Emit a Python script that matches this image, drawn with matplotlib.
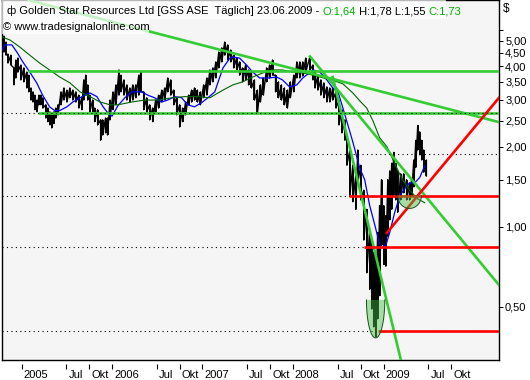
import numpy as np
import pandas as pd
import matplotlib
matplotlib.use('Agg')
import matplotlib.pyplot as plt
import matplotlib.dates as mdates
import matplotlib.transforms as mtransforms
from matplotlib.patches import Rectangle

plt.rcParams['font.family'] = ['Liberation Sans', 'DejaVu Sans']

# ---------------- data ----------------
dates = ['2004-10-14','2004-10-22','2004-10-30','2004-11-07','2004-11-19','2004-12-01','2004-12-09','2004-12-17','2004-12-29',
 '2005-01-10','2005-01-22','2005-01-30','2005-02-08','2005-02-16','2005-02-24','2005-03-04','2005-03-12','2005-03-20','2005-03-28',
 '2005-04-09','2005-04-17','2005-04-25','2005-05-03','2005-05-11','2005-05-19','2005-05-28','2005-06-09','2005-06-21','2005-07-03',
 '2005-07-15','2005-07-27','2005-08-08','2005-08-20','2005-09-01','2005-09-09','2005-09-17','2005-09-25','2005-10-03','2005-10-15',
 '2005-10-23','2005-11-04','2005-11-16','2005-11-24','2005-12-06','2005-12-14','2005-12-24','2006-01-05','2006-01-17','2006-01-29',
 '2006-02-06','2006-02-18','2006-03-02','2006-03-14','2006-03-26','2006-04-07','2006-04-19','2006-04-27','2006-05-09','2006-05-21',
 '2006-06-02','2006-06-14','2006-06-26','2006-07-08','2006-07-21','2006-08-02','2006-08-14','2006-08-26','2006-09-07','2006-09-19',
 '2006-10-01','2006-10-13','2006-10-25','2006-11-06','2006-11-18','2006-11-30','2006-12-12','2006-12-24','2007-01-06','2007-01-19',
 '2007-01-31','2007-02-12','2007-02-24','2007-03-08','2007-03-20','2007-04-01','2007-04-13','2007-04-25','2007-05-07','2007-05-19',
 '2007-05-31','2007-06-12','2007-06-24','2007-07-06','2007-07-18','2007-07-30','2007-08-11','2007-08-23','2007-09-04','2007-09-17',
 '2007-09-29','2007-10-11','2007-10-23','2007-11-04','2007-11-16','2007-11-28','2007-12-10','2007-12-22','2008-01-05','2008-01-17',
 '2008-01-29','2008-02-10','2008-02-22','2008-03-10','2008-03-22','2008-03-30','2008-04-11','2008-04-23','2008-05-05','2008-05-17',
 '2008-05-29','2008-06-10','2008-06-23','2008-07-05','2008-07-17','2008-07-29','2008-08-06','2008-08-18','2008-08-30','2008-09-11',
 '2008-09-19','2008-10-01','2008-10-13','2008-10-25','2008-11-06','2008-11-14','2008-11-22','2008-11-30','2008-12-08','2008-12-16',
 '2008-12-24','2009-01-02','2009-01-10','2009-01-18','2009-01-26','2009-02-03','2009-02-11','2009-02-19','2009-02-27','2009-03-11',
 '2009-03-23','2009-04-04','2009-04-16','2009-04-24','2009-05-03','2009-05-11','2009-05-19','2009-05-27','2009-06-04','2009-06-12',
 '2009-06-23']
highs = [5.45,5.20,4.94,4.45,4.41,3.95,4.23,4.30,4.05,
 3.95,3.81,3.71,3.32,3.21,3.12,2.99,3.12,3.12,3.05,
 2.87,2.79,2.70,2.63,2.70,2.79,2.87,3.21,3.32,3.26,
 3.32,3.26,3.21,3.12,3.05,3.56,3.71,3.41,3.12,2.99,
 2.79,2.75,2.52,2.52,2.56,2.56,2.99,3.21,3.41,3.88,
 3.71,3.56,3.41,3.32,3.41,3.41,3.71,3.81,3.21,3.05,
 2.87,2.79,2.99,3.12,3.26,3.32,3.62,3.56,3.26,3.05,
 2.87,2.79,2.94,3.12,3.26,3.32,3.26,3.21,3.41,3.62,
 3.88,3.95,4.16,4.53,4.70,4.94,4.82,4.61,4.41,4.30,
 4.16,3.95,4.05,3.88,3.81,3.56,3.26,3.41,3.62,3.95,
 4.05,4.23,3.71,3.50,3.41,3.32,3.26,3.50,3.71,4.16,
 4.16,4.16,4.30,4.36,4.05,3.81,3.71,3.56,3.47,3.35,
 3.32,3.32,3.21,2.99,2.75,2.52,2.21,1.94,1.70,1.56,
 1.94,1.70,1.37,1.16,0.97,0.89,0.80,0.78,0.95,1.20,
 1.50,1.20,1.10,1.50,1.62,1.73,1.90,1.73,1.62,1.58,
 1.58,1.50,1.46,1.50,1.78,2.11,2.40,2.27,2.11,1.94,
 1.78]
lows = [4.61,4.53,4.41,4.12,4.05,3.41,3.62,3.81,3.56,
 3.50,3.32,3.21,2.99,2.94,2.75,2.70,2.87,2.87,2.79,
 2.56,2.48,2.41,2.35,2.44,2.56,2.63,2.87,2.99,2.94,
 3.05,2.99,2.94,2.79,2.75,2.99,3.12,2.99,2.70,2.70,
 2.48,2.41,2.11,2.21,2.25,2.21,2.52,2.75,2.87,3.12,
 3.21,3.12,2.99,2.94,2.99,3.05,3.12,3.21,2.75,2.70,
 2.52,2.48,2.70,2.79,2.94,2.99,3.21,3.12,2.87,2.63,
 2.37,2.48,2.63,2.87,2.94,2.99,2.94,2.87,3.05,3.12,
 3.41,3.50,3.62,3.95,4.16,4.41,4.23,4.16,3.95,3.88,
 3.71,3.50,3.56,3.41,3.32,2.99,2.67,2.94,3.12,3.50,
 3.62,3.71,3.21,3.05,2.99,2.87,2.79,3.05,3.21,3.62,
 3.62,3.68,3.81,3.88,3.56,3.32,3.26,3.12,3.05,2.94,
 2.94,2.99,2.79,2.41,2.25,2.11,1.70,1.31,1.24,1.16,
 1.46,1.26,0.89,0.67,0.58,0.49,0.42,0.385,0.45,0.55,
 0.85,0.72,0.71,0.92,1.06,1.16,1.31,1.26,1.13,1.26,
 1.34,1.26,1.26,1.30,1.41,1.67,1.94,1.86,1.78,1.60,
 1.55]

ma_fast_dates = ['2004-10-14','2004-10-26','2004-11-23','2004-12-13','2005-01-06','2005-02-03','2005-03-03','2005-03-27','2005-04-24',
 '2005-05-15','2005-06-04','2005-07-03','2005-07-27','2005-09-02','2005-10-04','2005-11-01','2005-11-26','2005-12-16','2006-01-01',
 '2006-01-25','2006-02-22','2006-03-22','2006-05-01','2006-05-25','2006-06-22','2006-07-20','2006-08-14','2006-09-11','2006-10-09',
 '2006-11-02','2006-11-30','2006-12-28','2007-01-23','2007-02-20','2007-03-08','2007-03-25','2007-04-22','2007-05-04','2007-05-31',
 '2007-06-28','2007-07-23','2007-08-20','2007-09-29','2007-10-27','2007-11-20','2007-12-19','2008-01-17','2008-02-10','2008-03-22',
 '2008-04-19','2008-05-17','2008-06-10','2008-07-01','2008-07-21','2008-08-10','2008-08-30','2008-09-27','2008-10-17','2008-11-06',
 '2008-11-26','2008-12-20','2009-01-10','2009-01-26','2009-02-15','2009-03-07','2009-03-27','2009-04-16','2009-05-07','2009-05-27',
 '2009-06-16']
ma_fast = [4.61,4.82,4.82,4.53,4.16,3.81,3.47,3.12,2.82,
 2.73,2.73,2.82,2.94,3.08,3.18,3.08,2.82,2.67,2.60,
 2.85,3.05,3.21,3.21,3.12,3.05,2.94,2.99,3.08,3.05,
 2.87,2.82,2.92,3.05,3.21,3.56,3.95,4.30,4.34,4.30,
 4.05,3.81,3.62,3.62,3.65,3.56,3.35,3.41,3.62,3.88,
 3.81,3.56,3.32,3.21,2.79,2.41,2.08,1.66,1.50,1.20,
 1.02,0.83,0.85,0.95,1.13,1.30,1.39,1.46,1.46,1.53,
 1.69]

ma_slow_dates = ['2004-10-14','2004-11-15','2004-12-25','2005-02-03','2005-03-15','2005-04-24','2005-06-04','2005-07-15','2005-08-25',
 '2005-10-04','2005-11-14','2005-12-24','2006-01-25','2006-03-22','2006-05-13','2006-07-05','2006-08-31','2006-10-21','2006-12-13',
 '2007-01-31','2007-03-25','2007-05-04','2007-06-12','2007-07-23','2007-09-01','2007-10-11','2007-11-20','2007-12-31','2008-02-10',
 '2008-03-22','2008-04-19','2008-06-10','2008-07-21','2008-08-30','2008-09-27','2008-10-25','2008-11-19','2008-12-16','2009-01-14',
 '2009-02-15','2009-03-15','2009-04-16','2009-05-19','2009-06-16']
ma_slow = [5.16,5.03,4.73,4.41,4.12,3.88,3.65,3.47,3.21,
 3.08,2.94,2.87,2.87,2.94,2.99,2.99,3.05,3.08,3.08,
 3.05,3.26,3.41,3.50,3.65,3.78,3.88,3.88,3.81,3.78,
 3.71,3.65,3.55,3.44,3.18,2.97,2.79,2.50,2.16,2.00,
 1.73,1.52,1.37,1.27,1.23]

x_start, x_end = '2004-10-14', '2010-04-12'
y_min, y_max = 0.315, 7.11

dotted_levels = [2.67, 1.87, 1.30, 0.84, 0.405]
green_h_levels = [3.85, 2.67]
green_h_from = ['2005-01-26', '2005-03-08']
red_h_levels = [1.30, 0.84, 0.405]
red_h_from = ['2008-08-14', '2008-10-13', '2008-12-08']
# trend lines: (start date, start price, end date, end price)
green_trends = [('2005-01-30', 7.10, '2010-04-12', 2.47),
                ('2008-03-10', 4.36, '2010-04-12', 0.603),
                ('2008-06-10', 3.65, '2009-03-12', 0.315)]
red_trends = [('2009-01-14', 0.946, '2010-04-12', 3.05)]
# highlighted zones: (centre date, top price, half width days, depth in decades)
zones = [('2008-11-30', 0.53, 37, 0.143), ('2009-04-16', 1.31, 48, 0.049)]

ytick_vals = [0.5, 1.0, 1.5, 2.0, 2.5, 3.0, 3.5, 4.0, 4.5, 5.0, 5.5]
ytick_labels = ['0,50', '1,00', '1,50', '2,00', '2,50', '3,00', '3,50', '4,00', '4,50', '5,00', '']
xtick_dates = ['2005-01-01','2005-07-01','2005-10-01','2006-01-01','2006-07-01','2006-10-01','2007-01-01','2007-07-01','2007-10-01',
               '2008-01-01','2008-07-01','2008-10-01','2009-01-01','2009-07-01','2009-10-01']
xtick_labels = ['2005','Jul','Okt','2006','Jul','Okt','2007','Jul','Okt','2008','Jul','Okt','2009','Jul','Okt']

title_parts = [('\u0444 Golden Star Resources Ltd [GSS ASE  T\u00e4glich] 23.06.2009 - ', 'black'),
               ('O:1,64', '#00b000'), (' H:1,78 L:1,55 ', 'black'), ('C:1,73', '#00b000')]
source_text = '\u00a9 www.tradesignalonline.com'

# ---------------- figure ----------------
W, H = 530, 380
fig = plt.figure(figsize=(W / 100, H / 100), dpi=100)
fig.patch.set_facecolor('white')
ax = fig.add_axes([2 / W, 20 / H, 497 / W, 360 / H])
ax.set_facecolor('#f5f5f5')
ax.set_yscale('log')

d = pd.to_datetime(dates)
hi = np.array(highs)
lo = np.array(lows)
# price bars: a vertical bar for each reading plus a zig-zag between highs and lows
ax.vlines(d, lo, hi, color='black', lw=1.3, zorder=3)
zz_x = np.repeat(mdates.date2num(d), 2)
zz_y = np.empty(2 * len(hi))
zz_y[0::2] = hi
zz_y[1::2] = lo
ax.plot(zz_x, zz_y, color='black', lw=1.0, zorder=3)

ax.plot(pd.to_datetime(ma_fast_dates), ma_fast, color='#0000ff', lw=0.9, zorder=4)
ax.plot(pd.to_datetime(ma_slow_dates), ma_slow, color='#006400', lw=0.8, zorder=4)

xe = pd.Timestamp(x_end)
for lvl, st in zip(green_h_levels, green_h_from):
    ax.plot([pd.Timestamp(st), xe], [lvl, lvl], color='#33cc33', lw=1.9, zorder=5, solid_capstyle='butt')
for (d0, p0, d1, p1) in green_trends:
    ax.plot([pd.Timestamp(d0), pd.Timestamp(d1)], [p0, p1], color='#33cc33', lw=1.9, zorder=5)
for lvl in dotted_levels:
    ax.plot([pd.Timestamp(x_start), xe], [lvl, lvl], color='black', lw=0.8, ls=(0, (1, 3)), zorder=6)
for lvl, st in zip(red_h_levels, red_h_from):
    ax.plot([pd.Timestamp(st), xe], [lvl, lvl], color='#ff0000', lw=1.9, zorder=7, solid_capstyle='butt')
for (d0, p0, d1, p1) in red_trends:
    ax.plot([pd.Timestamp(d0), pd.Timestamp(d1)], [p0, p1], color='#ff0000', lw=1.9, zorder=7)

for (cd, top, hw, dep) in zones:
    th = np.linspace(np.pi, 2 * np.pi, 80)
    cx = mdates.date2num(pd.Timestamp(cd))
    xs = cx + hw * np.cos(th)
    ys = top * 10 ** (dep * np.sin(th))
    ax.fill(xs, ys, facecolor='#44c044', alpha=0.45, edgecolor='none', zorder=8)
    ax.plot(xs, ys, color='#1e4e1e', lw=0.7, zorder=8)

ax.set_xlim(pd.Timestamp(x_start), xe)
ax.set_ylim(y_min, y_max)

# y axis on the right
ax.yaxis.tick_right()
ax.yaxis.set_minor_locator(matplotlib.ticker.NullLocator())
ax.set_yticks(ytick_vals)
ax.set_yticklabels(ytick_labels)
ax.tick_params(axis='y', which='major', direction='out', length=3.2, width=0.7, pad=1.2,
               labelsize=8, colors='black')
ax.tick_params(axis='y', which='minor', length=0)

# x axis
xt = pd.to_datetime(xtick_dates)
ax.set_xticks(xt)
ax.set_xticklabels(xtick_labels)
ax.tick_params(axis='x', length=0, pad=7, labelsize=8)
off = mtransforms.ScaledTranslation(2 / 100, 0, fig.dpi_scale_trans)
for lab in ax.get_xticklabels():
    lab.set_horizontalalignment('left')
    lab.set_transform(lab.get_transform() + off)
btrans = mtransforms.blended_transform_factory(ax.transData, ax.transAxes)
ax.vlines(xt, -3.7 / 360, -8.7 / 360, color='black', lw=0.8, transform=btrans, clip_on=False)

for sp in ax.spines.values():
    sp.set_color('black')
    sp.set_linewidth(1.0)

# header boxes
ax.add_patch(Rectangle((0, 1 - 18.5 / 360), 444 / 497, 18.5 / 360, transform=ax.transAxes,
                       facecolor='white', alpha=0.72, edgecolor='none', zorder=20))
ax.add_patch(Rectangle((0, 1 - 34 / 360), 147 / 497, 15.5 / 360, transform=ax.transAxes,
                       facecolor='white', alpha=0.72, edgecolor='none', zorder=20))

prev = fig.text(7 / W, 1 - 16.5 / H, title_parts[0][0], color=title_parts[0][1], fontsize=8,
                ha='left', va='bottom', zorder=30)
for txt, col in title_parts[1:]:
    prev = ax.annotate(txt, xy=(1, 0), xycoords=prev, xytext=(0, 0), textcoords='offset points',
                       ha='left', va='bottom', color=col, fontsize=8, zorder=30, annotation_clip=False)
fig.text(3 / W, 1 - 32.5 / H, source_text, color='black', fontsize=8, ha='left', va='bottom', zorder=30)
fig.text(503 / W, 1 - 15 / H, '$', color='black', fontsize=8.5, ha='left', va='bottom')

fig.savefig('out.png', dpi=100)
